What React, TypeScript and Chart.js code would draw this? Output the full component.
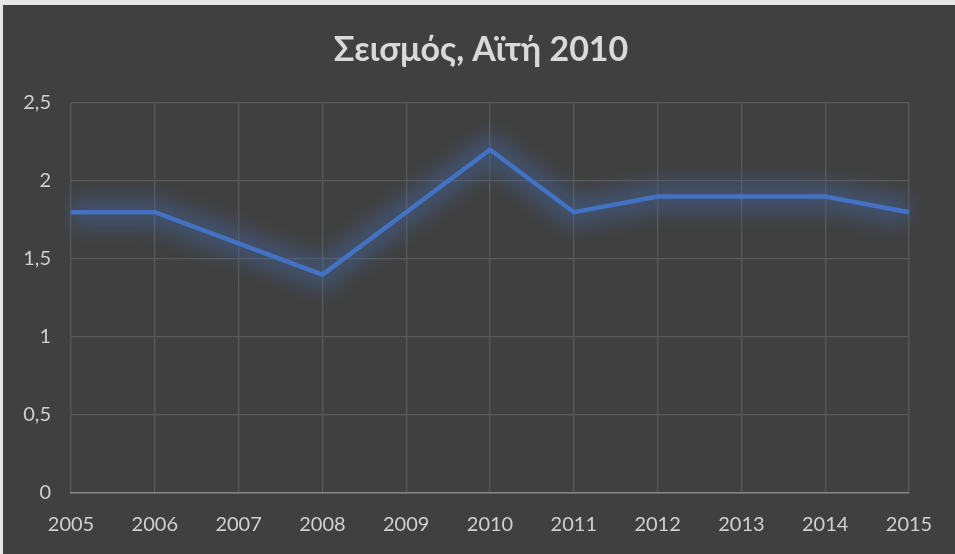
import React, { useEffect, useRef } from "react";
import { Chart, registerables } from "chart.js";

Chart.register(...registerables);

const years = ["2005", "2006", "2007", "2008", "2009", "2010", "2011", "2012", "2013", "2014", "2015"];
const values = [1.8, 1.8, 1.6, 1.4, 1.8, 2.2, 1.8, 1.9, 1.9, 1.9, 1.8];
const titleText = "Σεισμός, Αϊτή 2010";
const yMin = 0;
const yMax = 2.5;
const yStep = 0.5;

const FONT = "Lato, 'Open Sans', 'Noto Sans', sans-serif";

const glowPlugin = {
  id: "glow",
  beforeDatasetDraw(chart: any, args: any) {
    const ctx = chart.ctx;
    ctx.save();
    if (args.index === 0) {
      ctx.filter = "blur(9px)";
    }
  },
  afterDatasetDraw(chart: any) {
    chart.ctx.restore();
  },
};

const titlePlugin = {
  id: "centerTitle",
  afterDraw(chart: any) {
    const ctx = chart.ctx;
    ctx.save();
    ctx.fillStyle = "#d9d9d9";
    ctx.font = `bold 34px ${FONT}`;
    ctx.textAlign = "center";
    ctx.textBaseline = "middle";
    ctx.fillText(titleText, chart.width / 2 + 2, 45);
    ctx.restore();
  },
};

export default function App() {
  const ref = useRef<HTMLCanvasElement | null>(null);

  useEffect(() => {
    if (!ref.current) return;
    const chart = new Chart(ref.current, {
      type: "line",
      data: {
        labels: years,
        datasets: [
          {
            data: values,
            borderColor: "rgba(68,114,196,0.33)",
            borderWidth: 30,
            pointRadius: 0,
            tension: 0,
            fill: false,
          },
          {
            data: values,
            borderColor: "#4472C4",
            borderWidth: 4.5,
            pointRadius: 0,
            tension: 0,
            fill: false,
          },
        ],
      },
      plugins: [glowPlugin, titlePlugin],
      options: {
        animation: false,
        responsive: false,
        maintainAspectRatio: false,
        layout: { padding: { left: 0, right: 46, top: 98, bottom: 0 } },
        plugins: {
          legend: { display: false },
          tooltip: { enabled: false },
          title: { display: false },
        },
        scales: {
          x: {
            offset: false,
            grid: { color: "#595959", lineWidth: 1.3, drawTicks: false },
            border: { color: "#858585", width: 1.6 },
            ticks: {
              color: "#d0d0d0",
              font: { family: FONT, size: 20 },
              padding: 20,
              maxRotation: 0,
              autoSkip: false,
            },
            afterFit(scale: any) {
              scale.height = 61;
            },
          },
          y: {
            min: yMin,
            max: yMax,
            grid: { color: "#595959", lineWidth: 1.3, drawTicks: false },
            border: { display: false },
            ticks: {
              stepSize: yStep,
              color: "#d0d0d0",
              font: { family: FONT, size: 20 },
              padding: 20,
              callback: (v: any) => String(v).replace(".", ","),
            },
            afterFit(scale: any) {
              scale.width = 68;
            },
          },
        },
      },
    });
    return () => chart.destroy();
  }, []);

  return (
    <div style={{ position: "absolute", left: 0, top: 0, width: 955, height: 554, background: "#e6e6e6" }}>
      <div style={{ position: "absolute", left: 3, top: 5, width: 952, height: 549, background: "#404040" }}>
        <canvas ref={ref} width={952} height={549} style={{ display: "block", width: 952, height: 549 }} />
      </div>
    </div>
  );
}
